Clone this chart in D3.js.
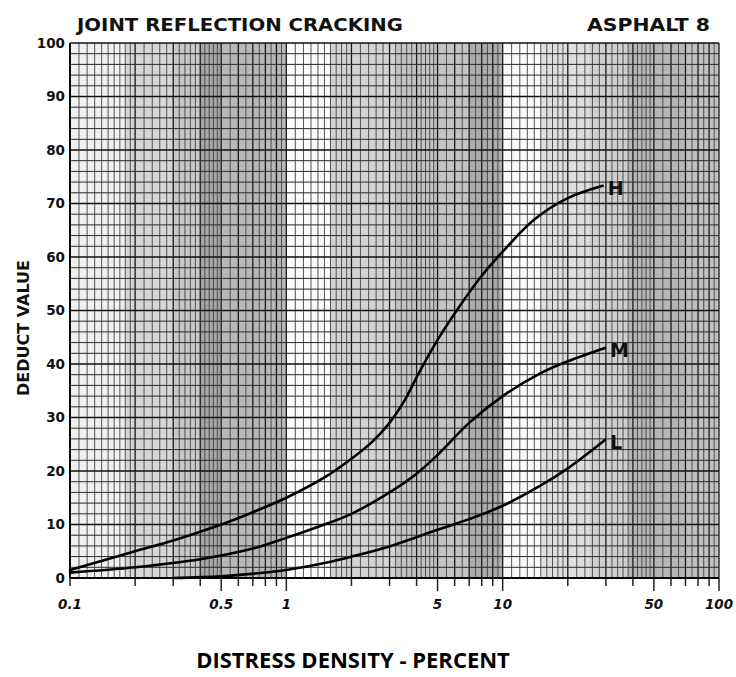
<!DOCTYPE html>
<html>
<head>
<meta charset="utf-8">
<script src="https://cdn.jsdelivr.net/npm/d3@7"></script>
<style>
  html, body { margin: 0; padding: 0; background: #fff; }
  svg { display: block; }
</style>
</head>
<body>
<svg id="chart" width="736" height="677"></svg>
<script>
// ---- data ----
const title = "JOINT REFLECTION CRACKING";
const subtitle = "ASPHALT 8";
const yLabel = "DEDUCT VALUE";
const xLabel = "DISTRESS DENSITY - PERCENT";
const xTickValues = [0.1, 0.5, 1, 5, 10, 50, 100];
const xTickLabels = ["0.1", "0.5", "1", "5", "10", "50", "100"];
const yTickValues = [0, 10, 20, 30, 40, 50, 60, 70, 80, 90, 100];
const seriesNames = ["H", "M", "L"];
const highX = [0.1, 0.2, 0.3, 0.5, 0.7, 1, 1.5, 2, 2.5, 3, 3.5, 4, 5, 6.5, 8, 10, 14, 20, 29];
const highY = [1.5, 5, 7, 10, 12.3, 15, 18.8, 22.3, 25.5, 29, 33, 37.5, 44.5, 51.5, 56.5, 61, 67, 71, 73.3];
const medX = [0.1, 0.2, 0.4, 0.7, 1, 1.5, 2, 3, 4, 5, 7, 10, 15, 20, 29.7];
const medY = [1, 2, 3.5, 5.5, 7.5, 10, 12, 16, 19.5, 23, 29, 34, 38.3, 40.5, 43];
const lowX = [0.3, 0.5, 0.7, 1, 1.5, 2, 3, 5, 7, 10, 15, 20, 29.7];
const lowY = [0, 0.3, 0.8, 1.5, 2.8, 4, 5.9, 9, 11, 13.5, 17.3, 20.5, 25.8];

// ---- layout ----
const svg = d3.select("#chart");
const pLeft = 70, pRight = 719, pTop = 43, pBottom = 578;
const x = d3.scaleLog().domain([0.1, 100]).range([pLeft, pRight]);
const y = d3.scaleLinear().domain([0, 100]).range([pBottom, pTop]);

// scanned-paper shading bands (style only)
const bands = [
  [0.1, 0.18, "#f0f0f0"], [0.18, 0.3, "#d6d6d6"], [0.3, 0.4, "#c8c8c8"],
  [0.4, 0.5, "#a6a6a6"], [0.5, 1, "#b8b8b8"], [1, 1.6, "#fbfbfb"],
  [1.6, 3.2, "#d3d3d3"], [3.2, 7, "#c4c4c4"], [7, 10, "#acacac"],
  [10, 15, "#fafafa"], [15, 25, "#dedede"], [25, 38, "#cfcfcf"],
  [38, 70, "#b6b6b6"], [70, 100, "#c0c0c0"]
];
svg.append("g").selectAll("rect").data(bands).join("rect")
  .attr("x", d => x(d[0])).attr("width", d => x(d[1]) - x(d[0]))
  .attr("y", pTop).attr("height", pBottom - pTop)
  .attr("fill", d => d[2]);

// vertical grid (log paper)
const vLines = [];
[0.1, 1, 10].forEach(dec => {
  const subs = [[1, 2, 0.1], [2, 5, 0.2], [5, 10, 0.5]];
  subs.forEach(([a, b, s]) => {
    for (let k = 0; a + k * s < b - 1e-9; k++) {
      const m = a + k * s;
      const major = Math.abs(m - Math.round(m)) < 1e-9;
      vLines.push({ v: +(m * dec).toPrecision(6), major });
    }
  });
});
vLines.push({ v: 100, major: true });
svg.append("g").selectAll("line").data(vLines).join("line")
  .attr("x1", d => x(d.v)).attr("x2", d => x(d.v))
  .attr("y1", pTop).attr("y2", pBottom)
  .attr("stroke", d => d.major ? "#1a1a1a" : "#444")
  .attr("stroke-width", d => d.major ? 1.3 : 0.9);

// horizontal grid every 2
const hLines = d3.range(0, 101, 2);
svg.append("g").selectAll("line").data(hLines).join("line")
  .attr("x1", pLeft).attr("x2", pRight)
  .attr("y1", d => y(d)).attr("y2", d => y(d))
  .attr("stroke", d => d % 10 === 0 ? "#111" : "#2a2a2a")
  .attr("stroke-width", d => d % 10 === 0 ? 1.4 : 1);

// frame
svg.append("line").attr("x1", pLeft).attr("x2", pLeft).attr("y1", pTop).attr("y2", pBottom)
  .attr("stroke", "#000").attr("stroke-width", 1.8);
svg.append("line").attr("x1", pLeft).attr("x2", pRight).attr("y1", pBottom).attr("y2", pBottom)
  .attr("stroke", "#000").attr("stroke-width", 1.8);

// x ticks below axis
const tickVals = vLines.filter(d => d.major).map(d => d.v);
svg.append("g").selectAll("line").data(tickVals).join("line")
  .attr("x1", d => x(d)).attr("x2", d => x(d))
  .attr("y1", pBottom)
  .attr("y2", d => xTickValues.includes(d) && d !== 0.1 ? pBottom + 13 : pBottom + 8)
  .attr("stroke", "#222").attr("stroke-width", 1.5);

// x tick labels
const fontL = "'DejaVu Sans', sans-serif";
svg.append("g").selectAll("text").data(xTickValues).join("text")
  .attr("x", d => x(d)).attr("y", 609)
  .attr("text-anchor", "middle")
  .attr("font-family", fontL).attr("font-weight", "bold").attr("font-size", 13.5)
  .attr("font-style", "italic").attr("fill", "#111")
  .text((d, i) => xTickLabels[i]);

// y tick labels
svg.append("g").selectAll("text").data(yTickValues).join("text")
  .attr("x", 65).attr("y", d => y(d)).attr("dy", "0.36em")
  .attr("text-anchor", "end")
  .attr("font-family", fontL).attr("font-weight", "bold").attr("font-size", 13.5)
  .attr("fill", "#111")
  .text(d => d);

// curves
const series = [
  { name: seriesNames[0], xs: highX, ys: highY },
  { name: seriesNames[1], xs: medX, ys: medY },
  { name: seriesNames[2], xs: lowX, ys: lowY }
];
const line = d3.line().x(d => x(d[0])).y(d => y(d[1])).curve(d3.curveCatmullRom.alpha(0.5));
svg.append("g").selectAll("path").data(series).join("path")
  .attr("d", s => line(s.xs.map((v, i) => [v, s.ys[i]])))
  .attr("fill", "none").attr("stroke", "#000").attr("stroke-width", 2.6)
  .attr("stroke-linecap", "round");

// series labels at curve ends
svg.append("g").selectAll("text").data(series).join("text")
  .attr("x", s => x(s.xs[s.xs.length - 1]) + 5)
  .attr("y", s => y(s.ys[s.ys.length - 1]) + 2)
  .attr("dy", "0.36em")
  .attr("font-family", fontL).attr("font-weight", "bold").attr("font-size", 19)
  .attr("fill", "#111")
  .text(s => s.name);

// titles
svg.append("text").attr("x", 77).attr("y", 31)
  .attr("font-family", fontL).attr("font-weight", "bold").attr("font-size", 18)
  .attr("fill", "#111").attr("textLength", 326).attr("lengthAdjust", "spacingAndGlyphs")
  .text(title);
svg.append("text").attr("x", 587).attr("y", 31)
  .attr("font-family", fontL).attr("font-weight", "bold").attr("font-size", 18)
  .attr("fill", "#111").attr("textLength", 123).attr("lengthAdjust", "spacingAndGlyphs")
  .text(subtitle);

// y axis label
svg.append("text")
  .attr("transform", "translate(29,328) rotate(-90)")
  .attr("text-anchor", "middle")
  .attr("font-family", fontL).attr("font-weight", "bold").attr("font-size", 16)
  .attr("fill", "#111")
  .text(yLabel);

// x axis label
svg.append("text").attr("x", 353).attr("y", 668).attr("text-anchor", "middle")
  .attr("font-family", "'Open Sans', 'Liberation Sans', sans-serif")
  .attr("font-weight", "bold").attr("font-size", 22)
  .attr("fill", "#000")
  .text(xLabel);
</script>
</body>
</html>
